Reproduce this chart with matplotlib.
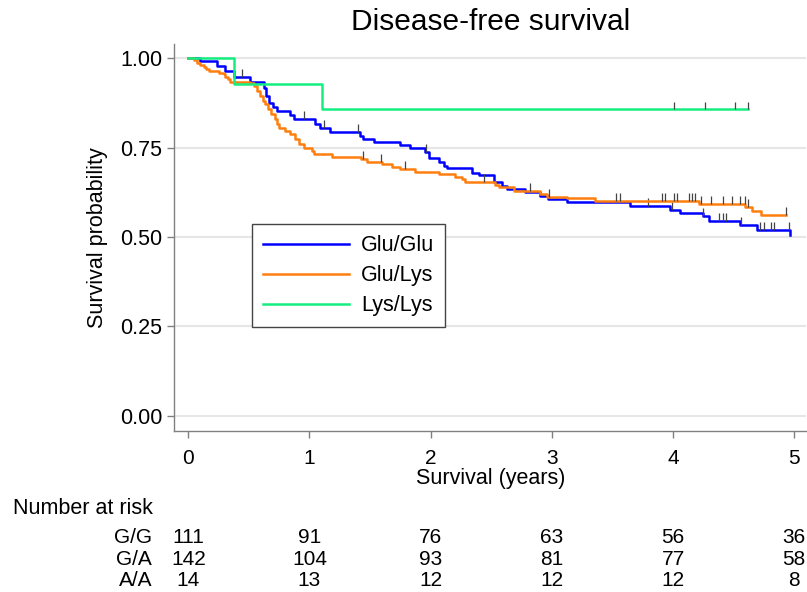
import numpy as np
import matplotlib
matplotlib.use("Agg")
import matplotlib.pyplot as plt
from matplotlib.transforms import blended_transform_factory

plt.rcParams['font.family'] = ['Liberation Sans', 'DejaVu Sans']

# Kaplan-Meier steps (time in years, survival after the drop)
gg_time = [0, 0.099, 0.237, 0.305, 0.374, 0.512, 0.622, 0.641, 0.663, 0.696, 0.732,
           0.842, 0.869, 1.048, 1.089, 1.166, 1.414, 1.441, 1.535, 1.743, 1.832,
           1.955, 1.983, 2.065, 2.107, 2.134, 2.34, 2.395, 2.52, 2.588, 2.63, 2.78,
           2.904, 2.965, 3.125, 3.647, 3.977, 4.054, 4.25, 4.293, 4.554, 4.69, 4.967]
gg_surv = [1, 0.992, 0.978, 0.965, 0.949, 0.935, 0.918, 0.895, 0.876, 0.865, 0.853,
           0.841, 0.830, 0.816, 0.804, 0.794, 0.783, 0.774, 0.766, 0.757, 0.748,
           0.737, 0.720, 0.709, 0.699, 0.692, 0.680, 0.673, 0.653, 0.643, 0.634, 0.627,
           0.614, 0.606, 0.597, 0.586, 0.576, 0.567, 0.558, 0.546, 0.534, 0.520, 0.506]
gg_cens = [0.446, 0.952, 1.117, 1.397, 1.961, 3.79, 3.99, 4.25, 4.38, 4.41, 4.44,
           4.56, 4.72, 4.75, 4.81, 4.83, 4.953]

ga_time = [0, 0.044, 0.071, 0.099, 0.126, 0.146, 0.173, 0.25, 0.292, 0.305, 0.327,
           0.347, 0.512, 0.539, 0.567, 0.594, 0.614, 0.636, 0.658, 0.685, 0.713,
           0.732, 0.751, 0.801, 0.842, 0.883, 0.911, 0.952, 1.02, 1.034, 1.185,
           1.425, 1.474, 1.598, 1.68, 1.749, 1.873, 2.065, 2.203, 2.258, 2.285,
           2.533, 2.56, 2.684, 2.904, 2.96, 3.125, 3.358, 4.211, 4.596, 4.651, 4.725]
ga_surv = [1, 0.995, 0.988, 0.981, 0.977, 0.971, 0.965, 0.960, 0.955, 0.949, 0.941,
           0.935, 0.932, 0.923, 0.909, 0.895, 0.881, 0.872, 0.858, 0.844, 0.830,
           0.816, 0.804, 0.797, 0.788, 0.774, 0.760, 0.748, 0.741, 0.732, 0.725,
           0.718, 0.710, 0.704, 0.697, 0.690, 0.682, 0.676, 0.669, 0.662, 0.655,
           0.645, 0.639, 0.630, 0.620, 0.613, 0.608, 0.601, 0.592, 0.583, 0.574, 0.562]
ga_cens = [1.44, 1.59, 1.785, 2.437, 2.82, 2.973, 3.531, 3.559, 3.908, 3.936, 4.004,
           4.032, 4.128, 4.155, 4.183, 4.23, 4.31, 4.41, 4.49, 4.55, 4.59, 4.62, 4.934]

aa_time = [0, 0.374, 1.10]
aa_surv = [1, 0.9286, 0.8571]
aa_cens = [4.01, 4.26, 4.51, 4.62]

labels = ['Glu/Glu', 'Glu/Lys', 'Lys/Lys']
colors = ['#0000ff', '#ff7f0e', '#14ee80']

risk_groups = ['G/G', 'G/A', 'A/A']
risk_times = [0, 1, 2, 3, 4, 5]
risk_counts = [[111, 91, 76, 63, 56, 36],
               [142, 104, 93, 81, 77, 58],
               [14, 13, 12, 12, 12, 8]]

W, H = 807, 592
fig = plt.figure(figsize=(W / 100, H / 100), dpi=100)
ax = fig.add_axes([173.5 / W, 1 - 431 / H, (806 - 173.5) / W, (431 - 44.3) / H])

ax.set_xlim(-0.122, 5.097)
ax.set_ylim(-0.0428, 1.0392)
ax.set_yticks([0, 0.25, 0.5, 0.75, 1.0])
ax.set_yticklabels(['0.00', '0.25', '0.50', '0.75', '1.00'])
ax.set_xticks(risk_times)
ax.grid(axis='y', color='#e6e6e6', linewidth=1.5)
ax.set_axisbelow(True)

for s in ['top', 'right']:
    ax.spines[s].set_visible(False)
for s in ['left', 'bottom']:
    ax.spines[s].set_color('#808080')
    ax.spines[s].set_linewidth(1.0)
ax.tick_params(axis='both', color='#808080', length=5, width=1.0)
ax.tick_params(axis='y', labelsize=15.5, pad=3)
ax.tick_params(axis='x', labelsize=15, pad=8)

curves = [(gg_time, gg_surv, gg_cens), (ga_time, ga_surv, ga_cens), (aa_time, aa_surv, aa_cens)]
for (t, sv, cens), lab, col in zip(curves, labels, colors):
    t = np.array(t)
    sv = np.array(sv)
    end = max(t[-1], max(cens))
    tp = np.append(t, end)
    sp = np.append(sv, sv[-1])
    ax.step(tp, sp, where='post', color=col, linewidth=1.8, label=lab)
    c = np.array(cens)
    sc = sv[np.searchsorted(t, c, side='right') - 1]
    ax.vlines(c, sc, sc + 0.022, color='#444444', linewidth=0.9)

leg = ax.legend(loc='upper left', bbox_to_anchor=(0.1246, 0.5345), borderaxespad=0,
                fontsize=15.5, handlelength=4.0, handletextpad=0.55, borderpad=0.5,
                labelspacing=0.42, fancybox=False, framealpha=1)
leg.get_frame().set_edgecolor('#444444')
leg.get_frame().set_linewidth(1.0)

fig.text(491 / W, 1 - 22 / H, 'Disease-free survival', fontsize=21.5, ha='center', va='center')
fig.text(97 / W, 1 - 238 / H, 'Survival probability', fontsize=15.5, rotation=90,
         ha='center', va='center')
fig.text(491 / W, 1 - 484 / H, 'Survival (years)', fontsize=15.5, ha='center', va='baseline')

# number at risk table
tr = blended_transform_factory(ax.transData, fig.transFigure)
fig.text(13 / W, 1 - 514 / H, 'Number at risk', fontsize=15.5, ha='left', va='baseline')
row_y = [543, 565, 586]
for g, counts, yy in zip(risk_groups, risk_counts, row_y):
    fig.text(152 / W, 1 - yy / H, g, fontsize=15, ha='right', va='baseline')
    for x, n in zip(risk_times, counts):
        ax.text(x, 1 - yy / H, str(n), transform=tr, fontsize=15,
                ha='center', va='baseline', clip_on=False)

fig.savefig('out.png', dpi=100)
